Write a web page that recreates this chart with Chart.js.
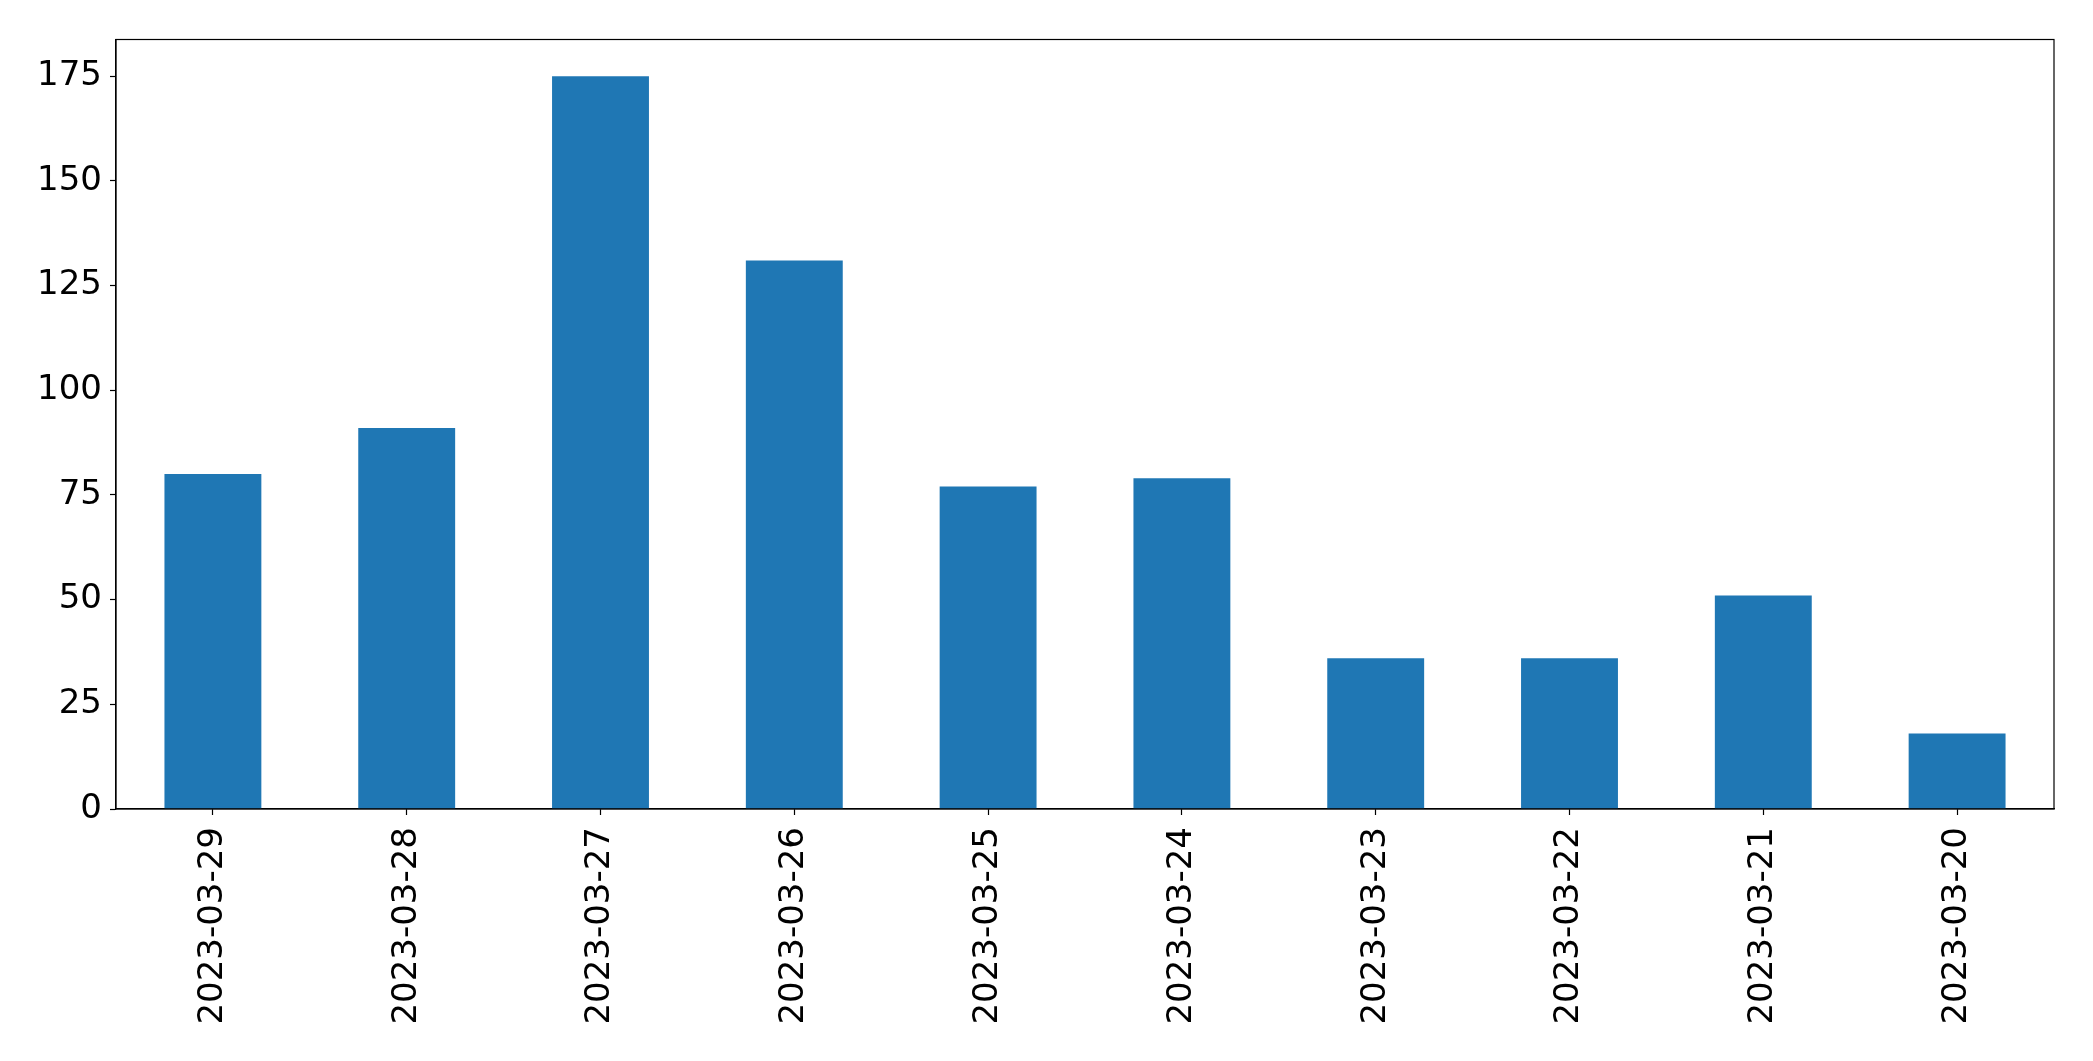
<!DOCTYPE html>
<html>
<head>
<meta charset="utf-8">
<script src="https://cdn.jsdelivr.net/npm/chart.js@4/dist/chart.umd.min.js"></script>
<style>
  html, body { margin: 0; padding: 0; background: #ffffff; }
  #wrap { width: 2093px; height: 1061px; position: relative; }
</style>
</head>
<body>
<div id="wrap"><canvas id="c" width="2093" height="1061"></canvas></div>
<script>
const categories = ["2023-03-29", "2023-03-28", "2023-03-27", "2023-03-26", "2023-03-25",
                    "2023-03-24", "2023-03-23", "2023-03-22", "2023-03-21", "2023-03-20"];
const counts = [80, 91, 175, 131, 77, 79, 36, 36, 51, 18];
const yTickStep = 25;
const yMax = 183.75;

const frame = {
  id: 'frame',
  afterDraw(chart) {
    const a = chart.chartArea, ctx = chart.ctx;
    ctx.save();
    ctx.strokeStyle = '#000';
    ctx.lineWidth = 1.2;
    ctx.strokeRect(a.left, a.top, a.right - a.left, a.bottom - a.top);
    ctx.restore();
  }
};

Chart.defaults.font.family = "'DejaVu Sans', sans-serif";
Chart.defaults.color = '#000';

new Chart(document.getElementById('c'), {
  type: 'bar',
  data: {
    labels: categories,
    datasets: [{
      data: counts,
      backgroundColor: '#1f77b4',
      borderWidth: 0,
      categoryPercentage: 1.0,
      barPercentage: 0.5
    }]
  },
  options: {
    responsive: false,
    animation: false,
    devicePixelRatio: 1,
    layout: { padding: { left: 0, top: 39.5, right: 39, bottom: 0 } },
    plugins: { legend: { display: false }, tooltip: { enabled: false } },
    scales: {
      x: {
        offset: true,
        grid: { display: true, offset: false, drawOnChartArea: false, drawTicks: true, tickLength: 6, tickColor: '#000', tickWidth: 1.2 },
        border: { display: true, color: '#000', width: 1.2 },
        ticks: { autoSkip: false, maxRotation: 90, minRotation: 90, padding: 12, font: { size: 34 }, color: '#000' },
        afterFit(scale) { scale.height = 252; }
      },
      y: {
        min: 0,
        max: yMax,
        grid: { display: true, drawOnChartArea: false, drawTicks: true, tickLength: 6, tickColor: '#000', tickWidth: 1.2 },
        border: { display: true, color: '#000', width: 1.2 },
        ticks: { stepSize: yTickStep, includeBounds: false, padding: 8, font: { size: 34 }, color: '#000' },
        afterFit(scale) { scale.width = 116; }
      }
    }
  },
  plugins: [frame]
});
</script>
</body>
</html>
